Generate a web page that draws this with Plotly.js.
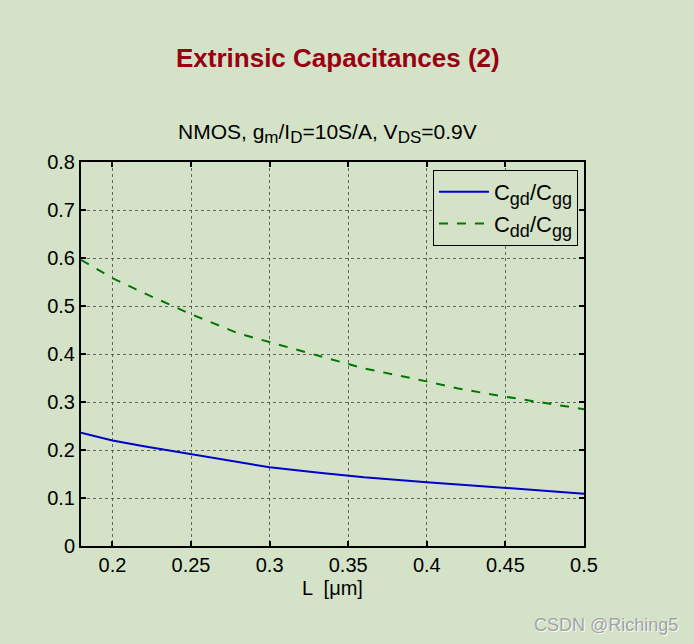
<!DOCTYPE html>
<html><head><meta charset="utf-8">
<script src="https://cdn.plot.ly/plotly-3.0.1.min.js"></script>
<style>html,body{margin:0;padding:0;background:#d4e3c8;}</style>
</head><body>
<div id="chart" style="width:694px;height:644px;"></div>
<script>
const L = [0.18, 0.2, 0.22, 0.25, 0.28, 0.3, 0.33, 0.36, 0.4, 0.42, 0.45, 0.5];
const cgdCgg = [0.236, 0.220, 0.208, 0.191, 0.174, 0.164, 0.153, 0.143, 0.133, 0.128, 0.121, 0.109];
const cddCgg = [0.596, 0.558, 0.527, 0.483, 0.443, 0.425, 0.398, 0.370, 0.343, 0.328, 0.311, 0.285];
const xTicks = [0.2, 0.25, 0.3, 0.35, 0.4, 0.45, 0.5];
const yTicks = [0, 0.1, 0.2, 0.3, 0.4, 0.5, 0.6, 0.7, 0.8];

const font = 'Liberation Sans, Arial, sans-serif';
function sub(s, px) { return '<sub><span style="font-size:' + px + 'px">' + s + '</span></sub>'; }
const traces = [
  {x: L, y: cgdCgg, mode: 'lines', name: 'C' + sub('gd', 18) + '/C' + sub('gg', 18),
   line: {color: '#0000cc', width: 2}},
  {x: L, y: cddCgg, mode: 'lines', name: 'C' + sub('dd', 18) + '/C' + sub('gg', 18),
   line: {color: '#007700', width: 2, dash: 'dash'}}
];
const axisCommon = {
  showline: true, linecolor: '#000', linewidth: 2, mirror: 'ticks',
  ticks: 'inside', ticklen: 5, tickwidth: 2, tickcolor: '#000',
  showgrid: true, gridcolor: '#444', griddash: '3px,3px', gridwidth: 0.8,
  zeroline: false, tickfont: {family: font, size: 20, color: '#000'}
};
const layout = {
  width: 694, height: 644,
  paper_bgcolor: '#d4e3c8', plot_bgcolor: '#d4e3c8',
  margin: {l: 81, r: 110, t: 162, b: 98},
  showlegend: true,
  legend: {x: 0.988, y: 0.979, xanchor: 'right', yanchor: 'top',
    bgcolor: '#d4e3c8', bordercolor: '#000', borderwidth: 1, itemwidth: 50,
    font: {family: font, size: 22, color: '#000'}, tracegroupgap: 6},
  xaxis: Object.assign({}, axisCommon, {
    range: [0.18, 0.5], tickvals: xTicks, ticktext: xTicks.map(String),
    title: {text: 'L  [μm]', font: {family: font, size: 20, color: '#000'}, standoff: 6}
  }),
  yaxis: Object.assign({}, axisCommon, {
    range: [0, 0.8], tickvals: yTicks, ticktext: yTicks.map(String)
  }),
  annotations: [
    {text: '<b>Extrinsic Capacitances (2)</b>', xref: 'paper', yref: 'paper',
     x: 0.511, y: 1.271, xanchor: 'center', yanchor: 'middle', showarrow: false,
     font: {family: font, size: 26, color: '#990011'}},
    {text: 'NMOS, g' + sub('m', 17) + '/I' + sub('D', 17) + '=10S/A, V' + sub('DS', 17) + '=0.9V',
     xref: 'paper', yref: 'paper',
     x: 0.491, y: 1.075, xanchor: 'center', yanchor: 'middle', showarrow: false,
     font: {family: font, size: 21, color: '#000'}},
    {text: 'CSDN @Riching5', xref: 'paper', yref: 'paper',
     x: 1.191, y: -0.206, xanchor: 'right', yanchor: 'middle', showarrow: false,
     font: {family: font, size: 18, color: '#a3a3a3', shadow: '1px 1px 1px #ffffff'}}
  ]
};
Plotly.newPlot('chart', traces, layout, {displayModeBar: false, staticPlot: true});
</script>
</body></html>
